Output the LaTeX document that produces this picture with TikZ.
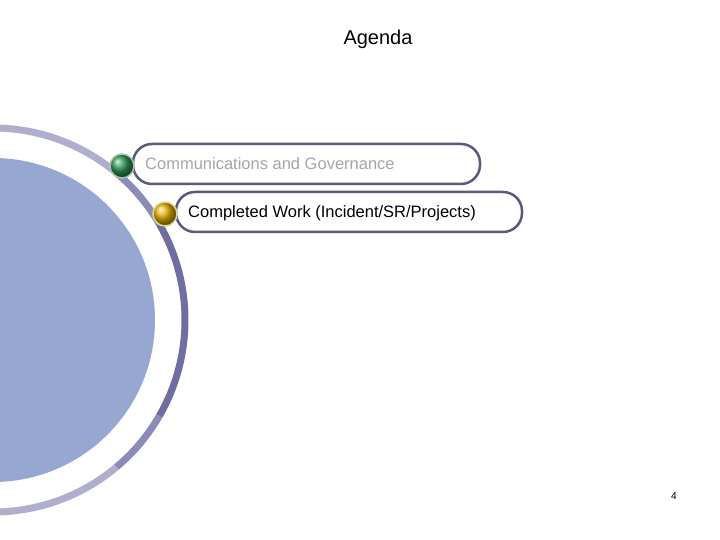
\documentclass[tikz,border=0pt]{standalone}
\usepackage{fontspec}
\setmainfont{Liberation Sans}
\definecolor{gring}{RGB}{170,200,175}
\definecolor{yring}{RGB}{225,215,150}
\definecolor{gball}{RGB}{45,150,85}
\definecolor{yball}{RGB}{225,175,0}
\definecolor{boxline}{RGB}{90,90,125}
\definecolor{disc}{RGB}{150,167,209}
\definecolor{arcA}{RGB}{175,175,205}
\definecolor{arcB}{RGB}{140,140,185}
\definecolor{arcC}{RGB}{110,110,160}
\begin{document}
\begin{tikzpicture}[x=1pt,y=1pt,
  itembox/.style={draw=boxline,line width=2.5pt,rounded corners=19pt,fill=white},
  ball/.style={circle,minimum size=24pt,inner sep=0pt,draw=#1,line width=1.5pt}]
\useasboundingbox (0,0) rectangle (720,540);
\clip (0,0) rectangle (720,540);
\fill[white] (0,0) rectangle (720,540);
\fill[disc] (-7,220) circle (162);
\draw[line width=7pt,arcA] (-7,220) ++(100:192) arc (100:50:192);
\draw[line width=7pt,arcB] (-7,220) ++(50:192) arc (50:30:192);
\draw[line width=7pt,arcC] (-7,220) ++(30:192) arc (30:-30:192);
\draw[line width=7pt,arcB] (-7,220) ++(-30:192) arc (-30:-50:192);
\draw[line width=7pt,arcA] (-7,220) ++(-50:192) arc (-50:-100:192);
\node (title) at (378,501) {\fontsize{20}{24}\selectfont Agenda};
\draw[itembox] (133,356) rectangle (480,396);
\node[anchor=west,text=black!35,inner sep=0pt] (t1) at (145,376) {\fontsize{16.5}{19}\selectfont Communications and Governance};
\draw[itembox] (176,308) rectangle (522,348);
\node[anchor=west,inner sep=0pt] (t2) at (188,327) {\fontsize{16.5}{19}\selectfont Completed Work (Incident/SR/Projects)};
\node[ball=gring,shading=ball,ball color=gball] (b1) at (122,374) {};
\node[ball=yring,shading=ball,ball color=yball] (b2) at (165,326) {};
\node (pg) at (674,44) {\fontsize{10}{12}\selectfont 4};
\end{tikzpicture}
\end{document}
